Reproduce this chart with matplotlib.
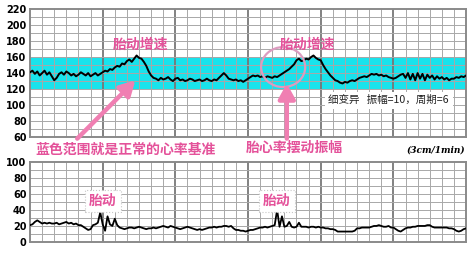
import matplotlib
matplotlib.use("Agg")
import matplotlib.pyplot as plt
from matplotlib.patches import Ellipse

plt.rcParams['font.family'] = ['Noto Sans CJK SC', 'DejaVu Sans']

# fetal heart rate trace (bpm), one sample per 1/5 grid square
fhr = [141, 143, 139, 142, 137, 140, 143, 138, 141, 136, 131, 134, 139, 141, 138,
       142, 140, 137, 139, 136, 138, 141, 139, 137, 140, 136, 138, 140, 137, 139,
       141, 143, 142, 145, 144, 147, 149, 148, 152, 151, 155, 157, 154, 158, 162,
       159, 158, 154, 149, 142, 137, 134, 133, 131, 134, 132, 133, 135, 132, 130,
       133, 134, 131, 132, 130, 131, 133, 132, 130, 131, 132, 130, 131, 133, 131,
       130, 132, 131, 134, 137, 140, 137, 133, 132, 131, 132, 130, 131, 129, 131,
       133, 135, 137, 136, 137, 135, 136, 134, 136, 135, 134, 136, 135, 137, 139,
       141, 143, 145, 148, 151, 156, 158, 155, 156, 158, 157, 160, 162, 159, 157,
       156, 150, 145, 141, 137, 134, 131, 130, 128, 127, 129, 128, 130, 131, 130,
       132, 134, 135, 136, 135, 137, 139, 138, 139, 137, 138, 136, 137, 135, 134,
       133, 134, 136, 138, 139, 134, 140, 132, 139, 131, 140, 133, 139, 131, 138,
       134, 137, 132, 136, 133, 135, 132, 134, 131, 133, 133, 135, 134, 136, 135,
       137]

# uterine / movement channel
toco = [21, 22, 25, 27, 25, 23, 24, 23, 24, 23, 23, 24, 22, 23, 24, 25, 23, 24,
        22, 23, 21, 21, 19, 17, 15, 16, 21, 22, 24, 37, 22, 14, 32, 22, 20, 29,
        21, 18, 17, 16, 17, 18, 18, 17, 18, 19, 18, 17, 16, 17, 17, 18, 17, 18,
        19, 20, 19, 18, 20, 19, 18, 17, 16, 17, 18, 19, 18, 17, 16, 15, 16, 15,
        16, 17, 18, 18, 19, 18, 19, 19, 20, 20, 19, 20, 17, 15, 15, 14, 14, 13,
        14, 15, 15, 16, 17, 18, 18, 19, 18, 19, 20, 21, 40, 19, 32, 19, 20, 25,
        19, 18, 19, 24, 19, 19, 19, 18, 19, 19, 18, 19, 18, 18, 17, 17, 16, 16,
        15, 13, 13, 13, 13, 13, 13, 13, 14, 17, 17, 18, 18, 18, 18, 19, 20, 20,
        21, 20, 19, 19, 20, 18, 18, 16, 14, 13, 15, 17, 18, 18, 19, 19, 20, 20,
        20, 20, 21, 21, 19, 18, 18, 18, 18, 18, 18, 17, 17, 16, 14, 13, 14, 16,
        17]

t = [i / 5 for i in range(len(fhr))]
t2 = [i / 5 for i in range(len(toco))]

fhr_ticks = [60, 80, 100, 120, 140, 160, 180, 200, 220]
toco_ticks = [0, 20, 40, 60, 80, 100]

pink = '#e4529a'
arrow_pink = '#f07fb2'

fig = plt.figure(figsize=(4.74, 2.61), dpi=100)
ax1 = fig.add_axes([0.0633, 0.475, 0.920, 0.490])
ax2 = fig.add_axes([0.0633, 0.073, 0.920, 0.3065])


def paper_grid(ax, ymin, ymax, ticks):
    ax.set_xlim(0, 36)
    ax.set_ylim(ymin, ymax)
    ax.set_yticks(ticks)
    ax.set_xticks([])
    for v in range(1, 36):
        if v % 6 == 0:
            ax.axvline(v, color='#777777', lw=1.3, zorder=1)
        else:
            ax.axvline(v, color='#a8a8a8', lw=0.7, zorder=1)
    for v in range(ymin + 10, ymax, 10):
        ax.axhline(v, color='#a8a8a8', lw=0.7, zorder=1)
    for s in ax.spines.values():
        s.set_color('#8a8a8a')
        s.set_linewidth(1.4)
    ax.tick_params(axis='y', length=0, pad=2.5, labelsize=7)
    for lab in ax.get_yticklabels():
        lab.set_fontweight('bold')
        lab.set_family('DejaVu Sans')


paper_grid(ax1, 60, 220, fhr_ticks)
paper_grid(ax2, 0, 100, toco_ticks)

# normal baseline band
ax1.axhspan(120, 160, color='#19e3ec', zorder=0.5, lw=0)
ax1.plot(t, fhr, color='black', lw=1.4, zorder=3)
ax2.plot(t2, toco, color='black', lw=1.3, zorder=3)

txt = dict(color=pink, fontsize=10, fontweight='bold', ha='center', va='center',
           clip_on=False, zorder=5)
ax1.text(9.1, 175, '胎动增速', **txt)
ax1.text(22.9, 175, '胎动增速', **txt)
ax1.text(7.85, 44, '蓝色范围就是正常的心率基准', **txt)
ax1.text(21.8, 46, '胎心率摆动振幅', **txt)
ax1.text(33.5, 44, '(3cm/1min)', fontsize=6.5, fontweight='bold', style='italic',
         ha='center', va='center', family='DejaVu Serif', clip_on=False)
ax1.text(29.6, 106, '细变异   振幅=10，周期=6', fontsize=7.6, ha='center', va='center',
         color='#222222', zorder=5,
         bbox=dict(boxstyle='square,pad=0.35', fc='white', ec='none'))

ax1.add_patch(Ellipse((20.9, 147.5), 3.64, 50, fill=False, ec='#dd9cc0', lw=1.6,
                      zorder=4))

arrow = dict(arrowstyle='-|>,head_width=0.5,head_length=0.9', color=arrow_pink,
             lw=3.2, shrinkA=0, shrinkB=0)
ax1.annotate('', xy=(8.7, 131), xytext=(3.9, 58), arrowprops=arrow,
             annotation_clip=False, zorder=4)
ax1.annotate('', xy=(21.2, 127), xytext=(21.2, 58), arrowprops=arrow,
             annotation_clip=False, zorder=4)

box = dict(boxstyle='square,pad=0.3', fc='white', ec='#c8c8c8', ls=':', lw=0.8)
ax2.text(6.0, 51, '胎动', color=pink, fontsize=10, fontweight='bold',
         ha='center', va='center', bbox=box, zorder=5)
ax2.text(20.4, 51, '胎动', color=pink, fontsize=10, fontweight='bold',
         ha='center', va='center', bbox=box, zorder=5)

fig.savefig('out.png', dpi=100, facecolor='white')
